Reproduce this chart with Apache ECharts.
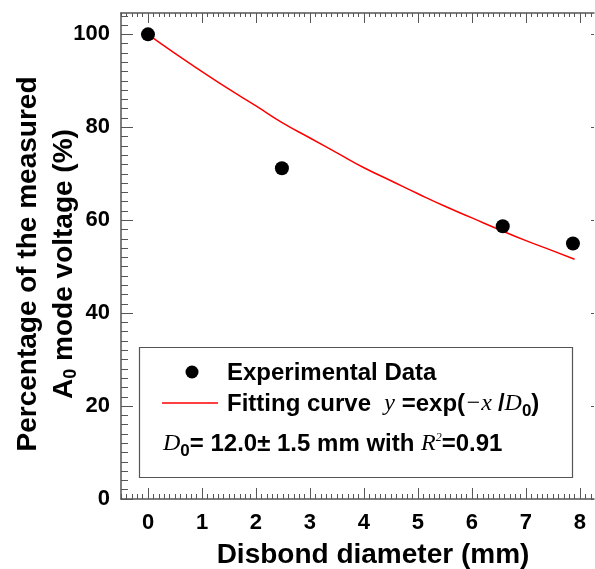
<!DOCTYPE html>
<html>
<head>
<meta charset="utf-8">
<script src="https://cdn.jsdelivr.net/npm/echarts@6/dist/echarts.min.js"></script>
<style>
  html, body { margin: 0; padding: 0; background: #fff; }
  #chart { width: 595px; height: 569px; }
</style>
</head>
<body>
<div id="chart"></div>
<script>
// measured points
const expX = [0, 2.48, 6.57, 7.87]
const expY = [100, 71.2, 58.7, 55.0]

// fitted curve
const fitX = [0, 0.5, 1, 1.5, 2, 2.5, 3, 3.5, 4, 4.5, 5, 5.5, 6, 6.5, 7, 7.5, 7.9]
const fitY = [100, 95.9, 92.0, 88.2, 84.6, 80.9, 77.7, 74.5, 71.3, 68.5, 65.7, 63.0, 60.5, 58.0, 55.6, 53.4, 51.6]

const xTicks = [0, 1, 2, 3, 4, 5, 6, 7, 8]
const yTicks = [0, 20, 40, 60, 80, 100]

const SANS = 'Liberation Sans, Arial, sans-serif'
const SERIF = 'Liberation Serif, Times New Roman, serif'
const AXIS_COLOR = '#555'

const X_MIN = -0.5, X_MAX = 8.26
const Y_MIN = 0, Y_MAX = 104.6

// minor tick positions
const xMinor = []
for (let i = -5; i <= 82; i++) xMinor.push(+(i / 10).toFixed(1))
const yMinor = []
for (let i = 0; i <= 52; i++) yMinor.push(i * 2)

function xAxisDef(position, values, len, showLine, showLabel) {
  return {
    type: 'value',
    position: position,
    min: X_MIN,
    max: X_MAX,
    axisLine: { show: showLine, onZero: false, lineStyle: { color: AXIS_COLOR, width: 1.5 } },
    axisTick: { show: true, inside: true, length: len, customValues: values, lineStyle: { color: AXIS_COLOR, width: 1 } },
    axisLabel: showLabel ? {
      show: true, customValues: xTicks, margin: 13,
      color: '#000', fontFamily: SANS, fontWeight: 'bold', fontSize: 22
    } : { show: false },
    splitLine: { show: false }
  }
}

function yAxisDef(position, values, len, showLine, showLabel) {
  return {
    type: 'value',
    position: position,
    min: Y_MIN,
    max: Y_MAX,
    axisLine: { show: showLine, onZero: false, lineStyle: { color: AXIS_COLOR, width: 1.5 } },
    axisTick: { show: true, inside: true, length: len, customValues: values, lineStyle: { color: AXIS_COLOR, width: 1 } },
    axisLabel: showLabel ? {
      show: true, customValues: yTicks, margin: 11,
      color: '#000', fontFamily: SANS, fontWeight: 'bold', fontSize: 22
    } : { show: false },
    splitLine: { show: false }
  }
}

const chart = echarts.init(document.getElementById('chart'), null, { renderer: 'canvas' })

const option = {
  animation: false,
  backgroundColor: '#fff',
  grid: { left: 121, right: 1, top: 13, bottom: 70 },
  xAxis: [
    xAxisDef('bottom', xTicks, 11, true, true),
    xAxisDef('bottom', xMinor, 5, false, false),
    xAxisDef('top', xTicks, 10, true, false),
    xAxisDef('top', xMinor, 4, false, false)
  ],
  yAxis: [
    yAxisDef('left', yTicks, 12, true, true),
    yAxisDef('left', yMinor, 7, false, false),
    yAxisDef('right', yTicks, 3, false, false)
  ],
  series: [
    {
      name: 'Fitting curve',
      type: 'line',
      xAxisIndex: 0,
      yAxisIndex: 0,
      smooth: true,
      symbol: 'none',
      data: fitX.map((x, i) => [x, fitY[i]]),
      lineStyle: { color: '#ff0000', width: 1.5 },
      z: 2
    },
    {
      name: 'Experimental Data',
      type: 'scatter',
      xAxisIndex: 0,
      yAxisIndex: 0,
      symbol: 'circle',
      symbolSize: 14,
      data: expX.map((x, i) => [x, expY[i]]),
      itemStyle: { color: '#000', opacity: 1 },
      z: 3
    }
  ],
  graphic: [
    // y axis title
    {
      type: 'text',
      x: 46,
      y: 264,
      rotation: Math.PI / 2,
      style: {
        text: '{t|Percentage of the measured}\n{t|A}{s|0}{t| mode voltage (%)}',
        align: 'center',
        verticalAlign: 'middle',
        rich: {
          t: { fontFamily: SANS, fontWeight: 'bold', fontSize: 28, lineHeight: 36, fill: '#000' },
          s: { fontFamily: SANS, fontWeight: 'bold', fontSize: 18, lineHeight: 36, padding: [14, 0, 0, 0], fill: '#000' }
        }
      }
    },
    // x axis title
    {
      type: 'text',
      x: 373,
      y: 555,
      style: {
        text: 'Disbond diameter (mm)',
        align: 'center',
        verticalAlign: 'middle',
        fontFamily: SANS,
        fontWeight: 'bold',
        fontSize: 28,
        fill: '#000'
      }
    },
    // legend box
    {
      type: 'rect',
      shape: { x: 139.5, y: 347.5, width: 433, height: 130 },
      style: { fill: 'none', stroke: AXIS_COLOR, lineWidth: 1.2 },
      z: 10
    },
    {
      type: 'circle',
      shape: { cx: 192, cy: 372, r: 6.5 },
      style: { fill: '#000' },
      z: 10
    },
    {
      type: 'line',
      shape: { x1: 162, y1: 403, x2: 218, y2: 403 },
      style: { stroke: '#ff0000', lineWidth: 1.5 },
      z: 10
    },
    {
      type: 'text',
      x: 227,
      y: 373,
      z: 10,
      style: {
        text: 'Experimental Data',
        verticalAlign: 'middle',
        fontFamily: SANS,
        fontWeight: 'bold',
        fontSize: 24,
        fill: '#000'
      }
    },
    {
      type: 'text',
      x: 227,
      y: 404,
      z: 10,
      style: {
        text: '{b|Fitting curve  }{i|y}{b| =exp(}{i|\u2212x }{b|/}{i|D}{s|0}{b|)}',
        verticalAlign: 'middle',
        rich: {
          b: { fontFamily: SANS, fontWeight: 'bold', fontSize: 24, fill: '#000' },
          i: { fontFamily: SERIF, fontStyle: 'italic', fontSize: 24, fill: '#000' },
          s: { fontFamily: SANS, fontWeight: 'bold', fontSize: 17, fill: '#000', padding: [14, 0, 0, 0] }
        }
      }
    },
    {
      type: 'text',
      x: 163,
      y: 444,
      z: 10,
      style: {
        text: '{i|D}{s|0}{b|= 12.0\u00b1 1.5 mm with }{i|R}{p|2}{b|=0.91}',
        verticalAlign: 'middle',
        rich: {
          b: { fontFamily: SANS, fontWeight: 'bold', fontSize: 24, fill: '#000' },
          i: { fontFamily: SERIF, fontStyle: 'italic', fontSize: 24, fill: '#000' },
          s: { fontFamily: SANS, fontWeight: 'bold', fontSize: 17, fill: '#000', padding: [14, 0, 0, 0] },
          p: { fontFamily: SERIF, fontStyle: 'italic', fontSize: 12, fill: '#000', padding: [0, 0, 12, 0] }
        }
      }
    }
  ]
}

chart.setOption(option)
</script>
</body>
</html>
